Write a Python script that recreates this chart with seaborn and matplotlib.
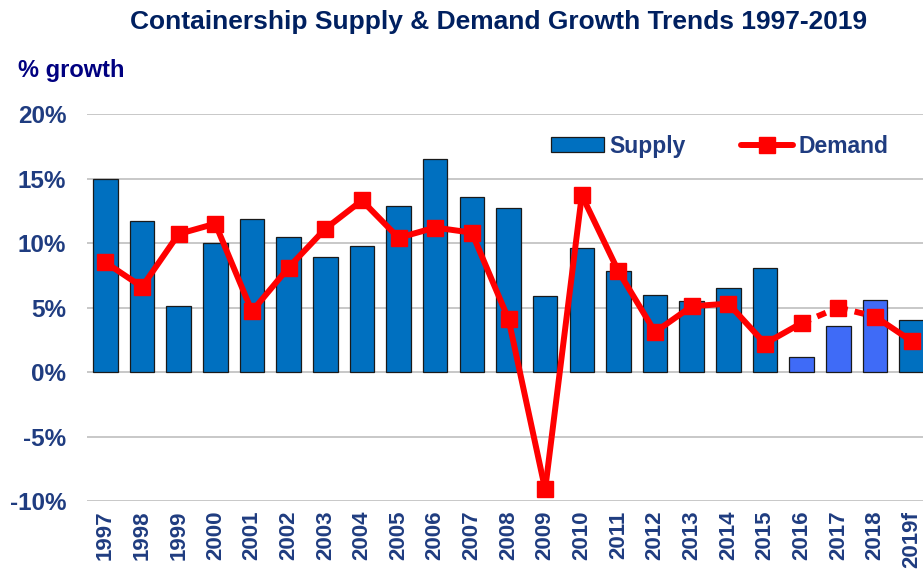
import matplotlib
matplotlib.use("Agg")
import matplotlib.pyplot as plt
import seaborn as sns
import pandas as pd
import numpy as np
from matplotlib.patches import Patch
from matplotlib.lines import Line2D

years = ["1997", "1998", "1999", "2000", "2001", "2002", "2003", "2004", "2005",
         "2006", "2007", "2008", "2009", "2010", "2011", "2012", "2013", "2014",
         "2015", "2016", "2017", "2018", "2019f"]
supply = [15.0, 11.7, 5.1, 10.0, 11.9, 10.5, 8.9, 9.8, 12.9, 16.5, 13.6, 12.7,
          5.9, 9.6, 7.8, 6.0, 5.5, 6.5, 8.1, 1.2, 3.6, 5.6, 4.0]
demand = [8.5, 6.6, 10.7, 11.5, 4.7, 8.1, 11.1, 13.3, 10.4, 11.2, 10.8, 4.1,
          -9.1, 13.7, 7.8, 3.1, 5.1, 5.3, 2.2, 3.8, 5.0, 4.3, 2.4]
highlight_years = ["2016", "2017", "2018"]
dashed_from = ["2016", "2017"]  # segments starting at these years are dashed
y_ticks = [-10, -5, 0, 5, 10, 15, 20]

dark_blue = "#0070C0"
light_blue = "#3F6BF7"
red = "#FF0000"
tick_col = "#1F3C80"
title_col = "#002060"

sns.set_theme(style="white")
plt.rcParams["font.family"] = ["Liberation Sans", "DejaVu Sans"]

df = pd.DataFrame({"year": years, "supply": supply, "demand": demand})
palette = {y: (light_blue if y in highlight_years else dark_blue) for y in years}

fig = plt.figure(figsize=(9.23, 5.75), dpi=100)
ax = fig.add_axes([0.0943, 0.1287, 0.9057, 0.673])

sns.barplot(data=df, x="year", y="supply", hue="year", palette=palette,
            saturation=1, legend=False, width=0.67, edgecolor="#1a1a1a",
            linewidth=0.9, ax=ax, zorder=2)

x = np.arange(len(years))
for i in range(len(years) - 1):
    ls = (0, (1.6, 1.2)) if years[i] in dashed_from else "-"
    ax.plot(x[i:i + 2], demand[i:i + 2], color=red, lw=4.3, linestyle=ls,
            solid_capstyle="butt", zorder=3)
ax.plot(x, demand, linestyle="none", marker="s", markersize=11, color=red, zorder=4)

ax.set_xlim(-0.5, 22.31)
ax.set_ylim(-10, 20)
ax.set_yticks(y_ticks)
ax.set_yticklabels([f"{v}%" for v in y_ticks])
ax.yaxis.grid(True, color="#C8C8C8", lw=1.4, zorder=0)
ax.set_axisbelow(True)
for s in ax.spines.values():
    s.set_visible(False)
ax.set_xlabel("")
ax.set_ylabel("")
ax.tick_params(axis="y", length=0, pad=15, labelsize=17.5, labelcolor=tick_col)
ax.tick_params(axis="x", length=0, pad=7, labelsize=16, labelcolor=tick_col,
               rotation=90)
for lab in ax.get_xticklabels() + ax.get_yticklabels():
    lab.set_fontweight("bold")

fig.text(0.54, 0.962, "Containership Supply & Demand Growth Trends 1997-2019",
         ha="center", va="center", fontsize=19, fontweight="bold", color=title_col)
fig.text(0.02, 0.878, "% growth", ha="left", va="center", fontsize=17,
         fontweight="bold", color="#000080")

handles = [Patch(facecolor=dark_blue, edgecolor="#1a1a1a", linewidth=0.9, label="Supply"),
           Line2D([0], [0], color=red, lw=4.3, marker="s", markersize=11, label="Demand")]
leg = ax.legend(handles=handles, ncol=2, frameon=False, loc="center",
                bbox_to_anchor=(0.757, 0.917), fontsize=16.5, handlelength=2.3,
                handleheight=0.65, columnspacing=2.4, handletextpad=0.22,
                borderpad=0, borderaxespad=0)
for t in leg.get_texts():
    t.set_color(tick_col)
    t.set_fontweight("bold")

fig.savefig("out.png", dpi=100)
